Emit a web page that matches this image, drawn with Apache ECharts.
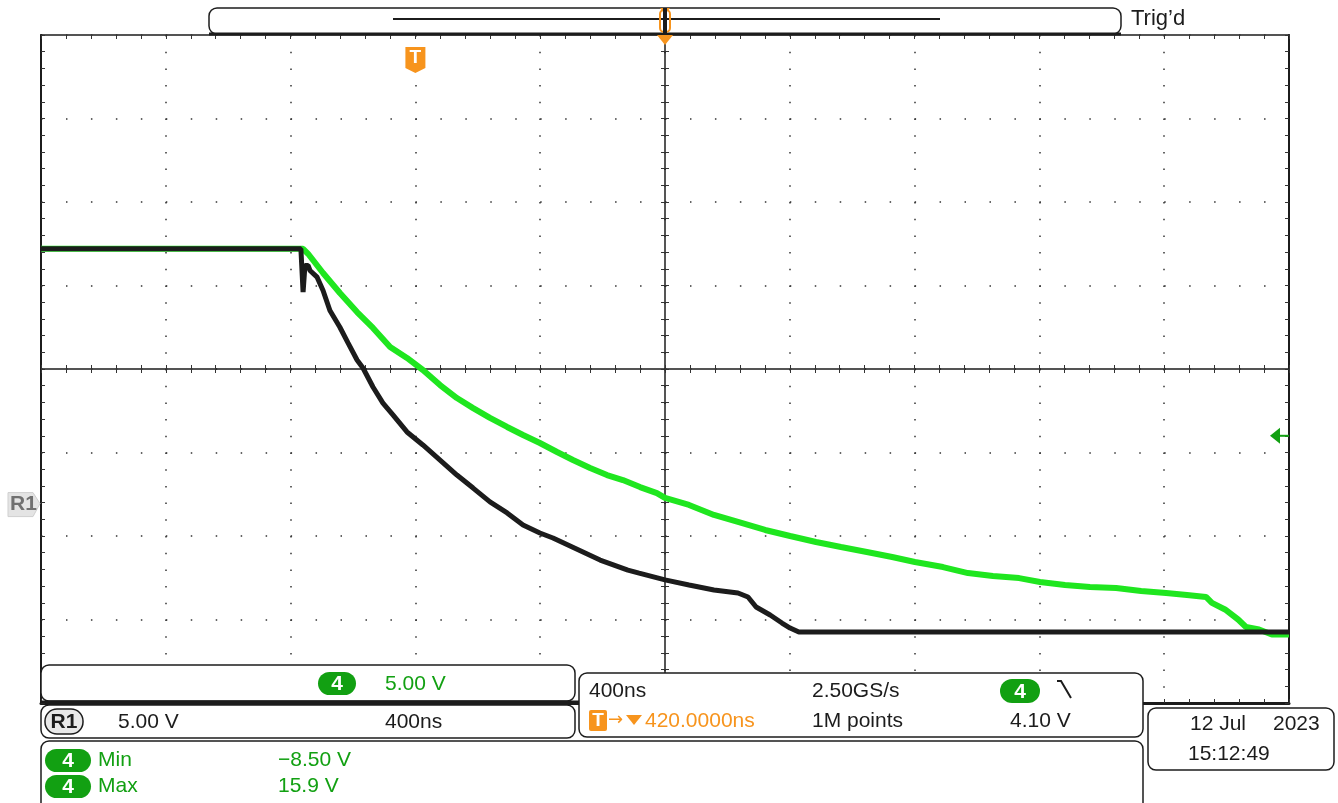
<!DOCTYPE html>
<html>
<head>
<meta charset="utf-8">
<script src="https://cdn.jsdelivr.net/npm/echarts@6/dist/echarts.min.js"></script>
<style>
  html,body{margin:0;padding:0;background:#fff}
  #scope{width:1338px;height:803px}
</style>
</head>
<body>
<div id="scope"></div>
<script>
// time in ns from screen centre, volts per channel (ground markers below)
var ch4Time = [-2000,-1160,-1144,-1096,-1042,-987,-936,-881,-827,-776,-721,-667,-615,-561,-506,-455,-401,-346,-295,-240,-186,-135,-80,-26,0,77,157,234,321,401,484,564,647,728,801,891,971,1051,1135,1202,1282,1362,1446,1526,1606,1673,1734,1753,1795,1837,1862,1904,1945,2000];
var ch4Volts = [11.2,11.2,10.9,9.75,8.55,7.41,6.46,5.32,4.66,3.94,3.04,2.26,1.66,1.07,0.53,0.05,-0.43,-0.97,-1.45,-1.93,-2.35,-2.65,-3.07,-3.43,-3.72,-4.14,-4.74,-5.16,-5.64,-6.0,-6.36,-6.66,-6.96,-7.26,-7.56,-7.86,-8.22,-8.40,-8.52,-8.75,-8.93,-9.05,-9.11,-9.29,-9.41,-9.53,-9.65,-10.0,-10.4,-11.0,-11.45,-11.6,-11.9,-11.9];
var r1Time = [-2000,-1167,-1160,-1154,-1144,-1138,-1115,-1096,-1074,-1042,-1016,-987,-968,-936,-904,-872,-827,-776,-721,-667,-615,-561,-506,-455,-401,-359,-208,-119,-83,0,77,157,234,266,292,337,375,401,429,2000];
var r1Volts = [15.2,15.2,12.6,14.2,14.2,13.9,13.5,12.7,11.5,10.5,9.56,8.54,8.06,6.92,5.96,5.25,4.23,3.45,2.55,1.65,0.87,0.04,-0.62,-1.34,-1.82,-2.12,-3.44,-4.04,-4.22,-4.63,-4.93,-5.23,-5.41,-5.65,-6.25,-6.73,-7.21,-7.51,-7.75,-7.75];

// ground level of each channel on screen (5 V/div, 0 = centre line)
var ch4Pos = -4, r1Pos = -8;
var trigTime = -800;

var FONT = '21px "Liberation Sans", Arial, sans-serif';
var BOLD = 'bold 21px "Liberation Sans", Arial, sans-serif';
var GREEN = '#1fe61f', DKGREEN = '#12a012', ORANGE = '#f7941d', INK = '#1c1c1c';

function pts(ts, vs, off){
  return ts.map(function(t,i){ return [t, vs[i] + off] })
}

function edgeAxis(pos, off, line){
  return {
    type:'value', position:pos, offset:off||0, min:-2000, max:2000, interval:400,
    axisLine:{show:!!line, onZero:false, lineStyle:{color:INK, width:line||1}},
    axisTick:{show:true, inside:true, length:4, lineStyle:{color:'#333'}},
    minorTick:{show:true, splitNumber:5, length:4, lineStyle:{color:'#333'}},
    axisLabel:{show:false}, splitLine:{show:false}
  }
}

var xAxes = [edgeAxis('bottom',0,3), edgeAxis('top'), edgeAxis('bottom',-334,1.5), edgeAxis('top',-334)];
xAxes[0].splitLine = {show:true, lineStyle:{color:'#333', width:1.5, type:[1.5,15.2]}};
var yAxes = [edgeAxis('left',0,2), edgeAxis('right',0,2), edgeAxis('left',-624,1.5), edgeAxis('right',-624)];
yAxes.forEach(function(a){ a.min=-20; a.max=20; a.interval=5 });
yAxes[0].splitLine = {show:true, lineStyle:{color:'#333', width:1.5, type:[1.5,23.46]}};

var chart = echarts.init(document.getElementById('scope'));

function txt(x,y,s,color,extra){
  var st = {x:x, y:y, text:s, fill:color||INK, font:FONT, verticalAlign:'middle'};
  if(extra) for(var k in extra) st[k]=extra[k];
  return {type:'text', z:20, style:st}
}
function box(x,y,w,h,r){
  return {type:'rect', z:15, shape:{x:x,y:y,width:w,height:h,r:r||8}, style:{fill:'#fff', stroke:INK, lineWidth:1.5}}
}
function pill(x,y,w,h){
  return [
    {type:'rect', z:18, shape:{x:x,y:y,width:w,height:h,r:h/2}, style:{fill:DKGREEN}},
    txt(x+w/2, y+h/2+1, '4', '#fff', {align:'center', font:BOLD})
  ]
}

chart.setOption({
  animation:false,
  backgroundColor:'#fff',
  grid:{left:41, top:35, width:1248, height:668, show:true, borderColor:INK, borderWidth:1.5, backgroundColor:'#fff'},
  xAxis:xAxes,
  yAxis:yAxes,
  series:[
    {type:'line', name:'4', data:pts(ch4Time, ch4Volts, ch4Pos), showSymbol:false, z:3,
      lineStyle:{color:GREEN, width:6}},
    {type:'line', name:'R1', data:pts(r1Time, r1Volts, r1Pos), showSymbol:false, z:4,
      lineStyle:{color:INK, width:5}}
  ]
});

var g4 = chart.convertToPixel({gridIndex:0}, [2000, ch4Pos]);
var gR = chart.convertToPixel({gridIndex:0}, [-2000, r1Pos]);
var tr = chart.convertToPixel({gridIndex:0}, [trigTime, 0]);
var cx = chart.convertToPixel({gridIndex:0}, [0, 0])[0];

var gfx = [
  // record bar
  box(209, 8, 912, 26, 0),
  {type:'line', z:16, shape:{x1:209,y1:34,x2:1121,y2:34}, style:{stroke:INK, lineWidth:3}},
  {type:'line', z:16, shape:{x1:393,y1:19,x2:940,y2:19}, style:{stroke:INK, lineWidth:2}},
  {type:'rect', z:17, shape:{x:cx-5,y:10,width:10,height:22,r:4}, style:{fill:'none', stroke:ORANGE, lineWidth:2}},
  {type:'rect', z:18, shape:{x:cx-2,y:8,width:4,height:26}, style:{fill:INK}},
  {type:'polygon', z:17, shape:{points:[[cx-5,8],[cx+5,8],[cx,14]]}, style:{fill:ORANGE}},
  {type:'polygon', z:17, shape:{points:[[cx-8,35],[cx+8,35],[cx,45]]}, style:{fill:ORANGE}},
  txt(1131, 19, 'Trig\u2019d', INK, {font:'22px "Liberation Sans", Arial, sans-serif'}),
  // trigger position marker
  {type:'polygon', z:17, shape:{points:[[tr[0]-10,47],[tr[0]+10,47],[tr[0]+10,68],[tr[0],73],[tr[0]-10,68]]}, style:{fill:ORANGE}},
  txt(tr[0], 58, 'T', '#fff', {align:'center', font:'bold 19px "Liberation Sans", Arial, sans-serif'}),
  // channel 4 ground marker
  {type:'polygon', z:17, shape:{points:[[g4[0]-19,g4[1]],[g4[0]-9,g4[1]-8],[g4[0]-9,g4[1]+8]]}, style:{fill:DKGREEN}},
  {type:'line', z:17, shape:{x1:g4[0]-10,y1:g4[1],x2:g4[0],y2:g4[1]}, style:{stroke:DKGREEN, lineWidth:2}},
  // R1 ground marker
  {type:'polygon', z:17, shape:{points:[[gR[0]-33,gR[1]-10],[gR[0]-8,gR[1]-10],[gR[0]-1,gR[1]+1],[gR[0]-8,gR[1]+14],[gR[0]-33,gR[1]+14]]},
    style:{fill:'#e4e4e4', stroke:'#cfcfcf', lineWidth:1}},
  txt(gR[0]-31, gR[1]+2, 'R1', '#707070', {font:BOLD}),
  // readout boxes
  box(41, 665, 534, 36),
  box(41, 705, 534, 33),
  box(41, 741, 1102, 70),
  box(579, 673, 564, 64),
  box(1148, 708, 186, 62),
  {type:'line', z:16, shape:{x1:41,y1:702,x2:579,y2:702}, style:{stroke:INK, lineWidth:3}},
  txt(385, 684, '5.00 V', DKGREEN),
  {type:'rect', z:18, shape:{x:45,y:709,width:38,height:25,r:12}, style:{fill:'#e8e8e8', stroke:INK, lineWidth:1.5}},
  txt(64, 722, 'R1', INK, {align:'center', font:BOLD}),
  txt(118, 722, '5.00 V'),
  txt(385, 722, '400ns'),
  txt(98, 760, 'Min', DKGREEN),
  txt(278, 760, '\u22128.50 V', DKGREEN),
  txt(98, 786, 'Max', DKGREEN),
  txt(278, 786, '15.9 V', DKGREEN),
  txt(589, 691, '400ns'),
  txt(812, 691, '2.50GS/s'),
  {type:'polyline', z:18, shape:{points:[[1057,681],[1061,681],[1071,698]]}, style:{stroke:INK, lineWidth:2, fill:'none'}},
  {type:'rect', z:18, shape:{x:589,y:710,width:18,height:21,r:2}, style:{fill:ORANGE}},
  txt(598, 721, 'T', '#fff', {align:'center', font:'bold 19px "Liberation Sans", Arial, sans-serif'}),
  txt(608, 720, '\u2192', ORANGE, {font:'18px "DejaVu Sans", sans-serif'}),
  {type:'polygon', z:18, shape:{points:[[626,715],[642,715],[634,725]]}, style:{fill:ORANGE}},
  txt(645, 721, '420.0000ns', ORANGE),
  txt(812, 721, '1M points'),
  txt(1010, 721, '4.10 V'),
  txt(1190, 724, '12 Jul'),
  txt(1273, 724, '2023'),
  txt(1188, 754, '15:12:49')
];
gfx = gfx.concat(pill(318, 672, 38, 23), pill(45, 749, 46, 23), pill(45, 775, 46, 23), pill(1000, 679, 40, 24));

chart.setOption({graphic:gfx});
</script>
</body>
</html>
